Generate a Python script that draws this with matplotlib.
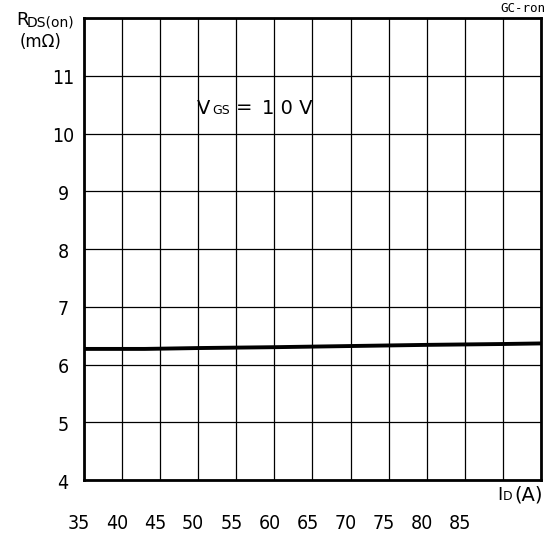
import matplotlib
matplotlib.use("Agg")
import matplotlib.pyplot as plt
from matplotlib import font_manager

ids = [35, 40, 43, 50, 60, 70, 80, 90, 95]
rds = [6.27, 6.27, 6.27, 6.285, 6.30, 6.32, 6.34, 6.355, 6.365]
xticks = [35, 40, 45, 50, 55, 60, 65, 70, 75, 80, 85]
yticks = [4, 5, 6, 7, 8, 9, 10, 11]

narrow_prop = None
for f in font_manager.fontManager.ttflist:
    fn = f.fname
    if f.name == 'DejaVu Sans' and 'Condensed' in fn and not any(k in fn for k in ('Bold', 'Oblique', 'Italic')):
        narrow_prop = font_manager.FontProperties(fname=fn)
        break
if narrow_prop is None:
    narrow_prop = font_manager.FontProperties(family='DejaVu Sans')

plt.rcParams['font.family'] = ['DejaVu Sans']

fig = plt.figure(figsize=(5.49, 5.34), dpi=100)
ax = fig.add_axes([0.153, 0.1011, 0.8324, 0.8652])
ax.set_xlim(35, 95)
ax.set_ylim(4, 12)
ax.set_xticks(range(35, 96, 5))
ax.set_yticks(range(4, 13))
ax.grid(True, color='black', linewidth=0.9)
ax.tick_params(length=0, labelbottom=False, labelleft=False)
for s in ax.spines.values():
    s.set_linewidth(2)
ax.plot(ids, rds, color='black', linewidth=2.8, solid_capstyle='butt')

p = narrow_prop.copy()
p.set_size(14)
for v in xticks:
    ax.annotate(str(v), (v, 4), xycoords='data', xytext=(-5, -43), textcoords='offset pixels',
                ha='center', va='center', fontproperties=p)
for v in yticks:
    ax.annotate(str(v), (35, v), xycoords='data', xytext=(-21, -3), textcoords='offset pixels',
                ha='center', va='center', fontproperties=p)

fig.text(16/549, 1 - 20/534, "R", fontsize=13, ha='left', va='center')
fig.text(27/549, 1 - 22/534, "DS(on)", fontsize=10, ha='left', va='center')
fig.text(20/549, 1 - 42/534, "(mΩ)", fontsize=12, ha='left', va='center')
fig.text(545/549, 1 - 8/534, "GC-ron", fontsize=9, ha='right', va='center', family='DejaVu Sans Mono')
fig.text(497/549, 1 - 495/534, "I", fontsize=13, ha='left', va='center')
fig.text(503/549, 1 - 497/534, "D", fontsize=9, ha='left', va='center')
fig.text(514/549, 1 - 495/534, "(A)", fontsize=14, ha='left', va='center')
fig.text(197/549, 1 - 108/534, "V", fontsize=14, ha='left', va='center')
fig.text(212/549, 1 - 111/534, "GS", fontsize=9, ha='left', va='center')
fig.text(236/549, 1 - 108/534, "=", fontsize=14, ha='left', va='center')
fig.text(262/549, 1 - 108/534, "1 0 V", fontsize=14, ha='left', va='center')

fig.savefig("out.png", dpi=100)
